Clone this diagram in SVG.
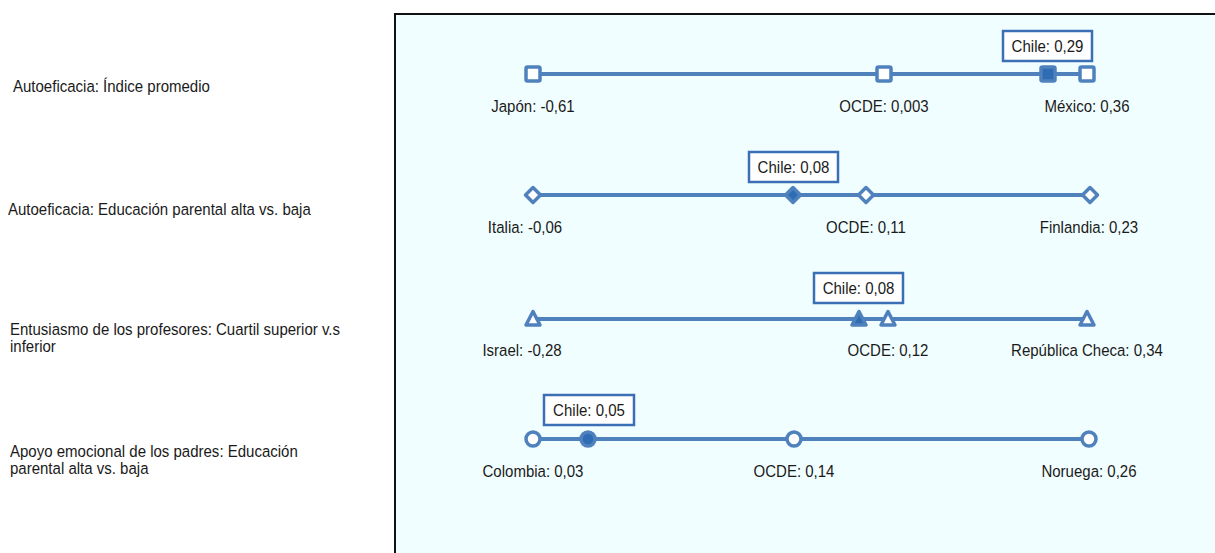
<svg xmlns="http://www.w3.org/2000/svg" width="1215" height="553" viewBox="0 0 1215 553">
<style>
text{font-family:'Liberation Sans',Arial,sans-serif;font-size:16.5px;fill:#1a1a1a}
.lbl{text-anchor:middle}
.bar{stroke:#4F81BD;stroke-width:4;fill:none}
.mk{fill:#fff;stroke:#4F81BD;stroke-width:3.5;stroke-linejoin:round}
.ch{fill:#2E6DB4;stroke:#4F81BD;stroke-width:3.5;stroke-linejoin:round}
.cb{fill:#fff;stroke:#3A6FB5;stroke-width:2.5}
</style>
<defs>
<rect id="sq" x="-7" y="-7" width="14" height="14" rx="1.5"/>
<path id="dm" d="M0,-7.5 L7.5,0 L0,7.5 L-7.5,0Z"/>
<path id="tr" d="M0,-7.5 L7,6 L-7,6Z"/>
<circle id="ci" r="7"/>
</defs>
<rect x="395" y="14" width="830" height="550" fill="#F1FEFF" stroke="#111" stroke-width="2"/>
<g id="row-labels" transform="scale(0.91,1)">
<text x="14.29" y="92">Autoeficacia: Índice promedio</text>
<text x="8.79" y="215">Autoeficacia: Educación parental alta vs. baja</text>
<text x="10.99" y="335">Entusiasmo de los profesores: Cuartil superior v.s</text>
<text x="10.99" y="352">inferior</text>
<text x="10.99" y="457">Apoyo emocional de los padres: Educación</text>
<text x="10.99" y="474">parental alta vs. baja</text>
</g>
<g id="connectors">
<line class="bar" x1="533" y1="74" x2="1087" y2="74"/>
<line class="bar" x1="533" y1="195" x2="1090" y2="195"/>
<line class="bar" x1="533" y1="319" x2="1087" y2="319"/>
<line class="bar" x1="533" y1="439" x2="1089" y2="439"/>
</g>
<g id="row1">
<use href="#sq" class="mk" x="533" y="74"/>
<use href="#sq" class="mk" x="884" y="74"/>
<use href="#sq" class="ch" x="1048" y="74"/>
<use href="#sq" class="mk" x="1087" y="74"/>
<rect class="cb" x="1003" y="31" width="89" height="30"/>
<g transform="scale(0.91,1)">
<text class="lbl" x="585.71" y="112">Japón: -0,61</text>
<text class="lbl" x="971.43" y="112">OCDE: 0,003</text>
<text class="lbl" x="1194.51" y="112">México: 0,36</text>
<text class="lbl" x="1151.10" y="52">Chile: 0,29</text>
</g>
</g>
<g id="row2">
<use href="#dm" class="mk" x="533" y="195"/>
<use href="#dm" class="ch" x="793" y="195"/>
<use href="#dm" class="mk" x="866" y="195"/>
<use href="#dm" class="mk" x="1090" y="195"/>
<rect class="cb" x="749" y="152" width="89" height="30"/>
<g transform="scale(0.91,1)">
<text class="lbl" x="576.92" y="233">Italia: -0,06</text>
<text class="lbl" x="951.65" y="233">OCDE: 0,11</text>
<text class="lbl" x="1196.70" y="233">Finlandia: 0,23</text>
<text class="lbl" x="871.98" y="173">Chile: 0,08</text>
</g>
</g>
<g id="row3">
<use href="#tr" class="mk" x="533" y="319"/>
<use href="#tr" class="ch" x="859" y="319"/>
<use href="#tr" class="mk" x="888" y="319"/>
<use href="#tr" class="mk" x="1087" y="319"/>
<rect class="cb" x="814" y="273" width="89" height="30"/>
<g transform="scale(0.91,1)">
<text class="lbl" x="573.63" y="356">Israel: -0,28</text>
<text class="lbl" x="975.82" y="356">OCDE: 0,12</text>
<text class="lbl" x="1194.51" y="356">República Checa: 0,34</text>
<text class="lbl" x="943.41" y="294">Chile: 0,08</text>
</g>
</g>
<g id="row4">
<use href="#ci" class="mk" x="533" y="439"/>
<use href="#ci" class="ch" x="588" y="439"/>
<use href="#ci" class="mk" x="794" y="439"/>
<use href="#ci" class="mk" x="1089" y="439"/>
<rect class="cb" x="544" y="395" width="90" height="30"/>
<g transform="scale(0.91,1)">
<text class="lbl" x="585.71" y="477">Colombia: 0,03</text>
<text class="lbl" x="872.53" y="477">OCDE: 0,14</text>
<text class="lbl" x="1196.70" y="477">Noruega: 0,26</text>
<text class="lbl" x="647.25" y="416">Chile: 0,05</text>
</g>
</g>
</svg>
